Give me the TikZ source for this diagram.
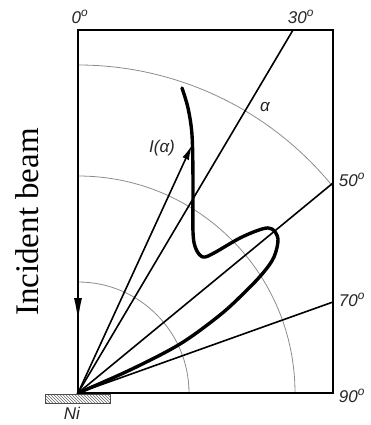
\documentclass[tikz,border=0pt]{standalone}
\usepackage{fontspec}
\newfontfamily\lab{Liberation Sans}
\newfontfamily\beamfont{Liberation Serif}
\usetikzlibrary{arrows.meta,patterns}
\begin{document}
\begin{tikzpicture}[x=1pt,y=-1pt,
  frame/.style={line width=2.8pt,line cap=rect},
  ray/.style={line width=1.6pt},
  arcline/.style={line width=0.8pt,draw=black!45},
  lobe/.style={line width=3.4pt,line cap=round,line join=round},
  lbl/.style={font=\lab\itshape\fontsize{17}{19}\selectfont,text=black!85,inner sep=0pt}]
\useasboundingbox (0,0) rectangle (370,425);
\coordinate (O) at (78,393);
\coordinate (TL) at (78,30);
\coordinate (TR) at (333,30);
\coordinate (BR) at (333,393);
\coordinate (P30) at (293,30);
\coordinate (P50) at (333,183);
\coordinate (P70) at (333,302);
\coordinate (IA) at (192,145);
\coordinate (BT) at (78,320);
% arcs
\draw[arcline] (78,282) arc[start angle=-90,end angle=0,radius=111];
\draw[arcline] (78,176) arc[start angle=-90,end angle=0,radius=217];
\draw[arcline] (78,65) arc[start angle=-90,end angle=-38.9,radius=328];
% rays
\draw[ray] (O) -- (P30);
\draw[ray] (O) -- (P50);
\draw[ray] (O) -- (P70);
\draw[ray,-{Latex[length=15pt,width=7pt]}] (O) -- (IA);
% intensity curve
\draw[lobe] plot[smooth,tension=0.55] coordinates {(182,88) (188,108) (192,135) (193,180) (193,232) (196,249) (203,257) (214,253) (240,238) (262,229) (272,229) (278,239) (274,257) (263,273) (245,292) (220,315) (180,344) (130,370) (78,393)};
% frame
\draw[frame] (O) -- (TL) -- (TR) -- (BR) -- cycle;
\draw[line width=1pt,-{Latex[length=22pt,width=8pt]}] (TL) -- (BT);
% Ni substrate
\node[draw=black!70,line width=0.8pt,pattern=north west lines,pattern color=black!60,minimum width=65pt,minimum height=9pt,inner sep=0pt] (ni) at (77.5,398.5) {};
% labels
\node[lbl] (l0) at (80,17) {0\textsuperscript{o}};
\node[lbl] (l30) at (301,17) {30\textsuperscript{o}};
\node[lbl] (l50) at (352,180) {50\textsuperscript{o}};
\node[lbl] (l70) at (352,300) {70\textsuperscript{o}};
\node[lbl] (l90) at (352,396) {90\textsuperscript{o}};
\node[lbl] (la) at (265,107) {α};
\node[lbl] (li) at (162,148) {I(α)};
\node[lbl] (lni) at (72,413) {Ni};
\node[rotate=90,anchor=base,inner sep=0pt,font=\beamfont\fontsize{33}{38}\selectfont] (beam) at (38,222) {Incident beam};
\end{tikzpicture}
\end{document}
